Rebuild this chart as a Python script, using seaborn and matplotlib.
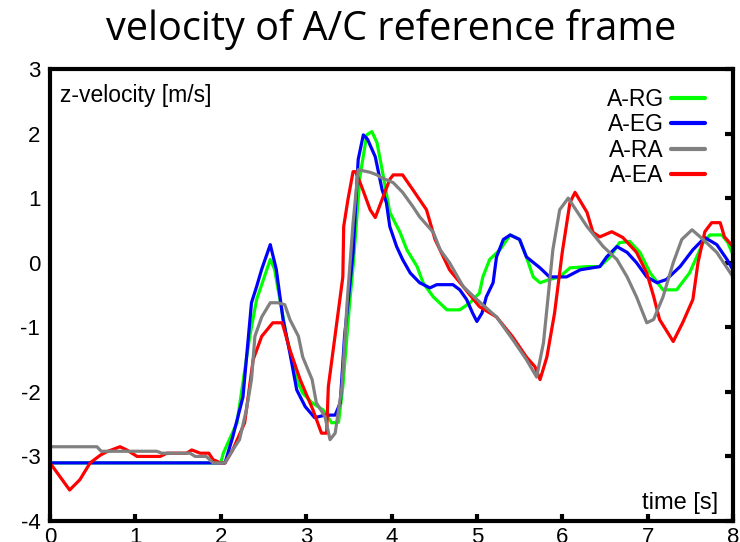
import numpy as np
import pandas as pd
import matplotlib
matplotlib.use("Agg")
import matplotlib.pyplot as plt
import seaborn as sns

# series (time [s], z-velocity [m/s])
t_rg = [0, 2.0, 2.03, 2.19, 2.34, 2.42, 2.58, 2.63, 2.77, 2.89,
        2.96, 3.07, 3.20, 3.30, 3.38, 3.43, 3.51, 3.55, 3.63, 3.71,
        3.77, 3.83, 3.89, 3.98, 4.10, 4.18, 4.30, 4.37, 4.49, 4.65,
        4.80, 4.92, 5.03, 5.07, 5.15, 5.27, 5.39, 5.50, 5.58, 5.66,
        5.74, 5.85, 5.97, 6.09, 6.30, 6.44, 6.56, 6.67, 6.79, 6.91,
        7.03, 7.18, 7.34, 7.49, 7.65, 7.73, 7.87, 7.94, 8.0]
v_rg = [-3.1, -3.1, -2.95, -2.48, -1.14, -0.57, 0.05, -0.1, -1.14, -1.81,
        -2.02, -2.17, -2.28, -2.48, -2.47, -1.92, -0.62, -0.06, 1.33, 1.98,
        2.03, 1.86, 1.44, 0.78, 0.47, 0.2, -0.06, -0.31, -0.53, -0.73,
        -0.73, -0.62, -0.47, -0.22, 0.05, 0.2, 0.43, 0.36, 0.09, -0.22,
        -0.31, -0.26, -0.22, -0.08, -0.06, -0.06, 0.09, 0.31, 0.33, 0.16,
        -0.16, -0.42, -0.42, -0.16, 0.31, 0.43, 0.43, 0.31, 0.12]

t_eg = [0, 2.05, 2.14, 2.26, 2.36, 2.42, 2.48, 2.58, 2.65, 2.73,
        2.81, 2.89, 2.99, 3.10, 3.22, 3.34, 3.40, 3.45, 3.51, 3.55,
        3.61, 3.67, 3.72, 3.81, 3.89, 3.94, 3.98, 4.06, 4.13, 4.22,
        4.33, 4.45, 4.53, 4.72, 4.80, 4.88, 4.95, 5.0, 5.06, 5.11,
        5.19, 5.23, 5.31, 5.39, 5.50, 5.58, 5.74, 5.85, 6.05, 6.21,
        6.44, 6.52, 6.64, 6.76, 6.87, 6.99, 7.11, 7.22, 7.38, 7.53,
        7.67, 7.81, 7.93, 8.0]
v_eg = [-3.1, -3.1, -2.7, -2.08, -0.62, -0.37, -0.1, 0.28, -0.1, -0.88,
        -1.4, -1.97, -2.23, -2.4, -2.36, -2.36, -2.17, -1.14, -0.37, 0.16,
        1.6, 1.98, 1.91, 1.64, 1.13, 0.93, 0.56, 0.25, 0.05, -0.16,
        -0.31, -0.39, -0.34, -0.34, -0.42, -0.57, -0.78, -0.91, -0.78, -0.53,
        -0.31, 0.09, 0.36, 0.43, 0.36, 0.09, -0.08, -0.22, -0.22, -0.11,
        -0.06, 0.09, 0.25, 0.16, 0.0, -0.22, -0.31, -0.26, -0.06, 0.2,
        0.39, 0.28, 0.05, -0.11]

t_ra = [0, 0.55, 0.6, 1.25, 1.31, 1.64, 1.7, 1.83, 1.91, 2.05,
        2.14, 2.22, 2.30, 2.36, 2.40, 2.48, 2.58, 2.67, 2.75, 2.81,
        2.91, 2.96, 3.07, 3.12, 3.22, 3.28, 3.34, 3.42, 3.48, 3.55,
        3.61, 3.75, 3.83, 3.86, 4.02, 4.13, 4.25, 4.33, 4.49, 4.57,
        4.68, 4.84, 5.0, 5.23, 5.42, 5.58, 5.70, 5.78, 5.89, 5.97,
        6.07, 6.29, 6.48, 6.64, 6.76, 6.87, 6.99, 7.07, 7.18, 7.30,
        7.40, 7.52, 7.65, 7.81, 8.0]
v_ra = [-2.85, -2.85, -2.92, -2.92, -2.95, -2.95, -3.0, -3.0, -3.1, -3.1,
        -2.9, -2.74, -2.28, -1.81, -1.14, -0.84, -0.62, -0.62, -0.65, -0.88,
        -1.14, -1.46, -1.81, -2.17, -2.38, -2.74, -2.64, -1.92, -0.62, 0.62,
        1.44, 1.4, 1.36, 1.33, 1.24, 1.09, 0.87, 0.71, 0.47, 0.2,
        0.0, -0.37, -0.57, -0.84, -1.19, -1.5, -1.77, -1.24, 0.2, 0.82,
        1.0, 0.56, 0.25, 0.05, -0.22, -0.53, -0.93, -0.88, -0.53, 0.0,
        0.36, 0.51, 0.36, 0.16, -0.22]

t_ea = [0, 0.23, 0.35, 0.47, 0.59, 0.66, 0.82, 0.9, 1.02, 1.29,
        1.37, 1.6, 1.66, 1.76, 1.86, 1.91, 2.0, 2.05, 2.14, 2.28,
        2.38, 2.48, 2.61, 2.72, 2.81, 2.93, 3.08, 3.18, 3.24, 3.26,
        3.43, 3.44, 3.49, 3.55, 3.58, 3.65, 3.75, 3.81, 3.89, 3.98,
        4.02, 4.13, 4.25, 4.41, 4.51, 4.68, 4.84, 5.03, 5.23, 5.42,
        5.58, 5.68, 5.74, 5.82, 5.91, 6.0, 6.09, 6.15, 6.29, 6.36,
        6.44, 6.58, 6.71, 6.87, 6.99, 7.07, 7.14, 7.30, 7.41, 7.53,
        7.59, 7.67, 7.75, 7.85, 7.90, 8.0]
v_ea = [-3.1, -3.52, -3.36, -3.1, -2.98, -2.93, -2.85, -2.9, -3.0, -3.0,
        -2.95, -2.95, -2.9, -2.95, -2.95, -3.05, -3.1, -3.1, -2.9, -2.48,
        -1.5, -1.14, -0.93, -0.93, -1.35, -1.81, -2.28, -2.64, -2.64, -1.92,
        -0.22, 0.56, 0.98, 1.41, 1.41, 1.18, 0.82, 0.7, 0.98, 1.29,
        1.36, 1.36, 1.13, 0.82, 0.36, -0.11, -0.37, -0.68, -0.84, -1.15,
        -1.46, -1.61, -1.81, -1.46, -0.78, 0.16, 0.93, 1.09, 0.78, 0.47,
        0.4, 0.48, 0.39, 0.16, -0.16, -0.52, -0.88, -1.22, -0.93, -0.57,
        0.0, 0.48, 0.62, 0.62, 0.4, 0.25]

labels = ["A-RG", "A-EG", "A-RA", "A-EA"]
colors = ["#00ff00", "#0000ff", "#808080", "#ff0000"]
x_ticks = [0, 1, 2, 3, 4, 5, 6, 7, 8]
y_ticks = [-4, -3, -2, -1, 0, 1, 2, 3]

sns.set_style("white")
plt.rcParams["font.family"] = ["Liberation Sans", "DejaVu Sans"]
plt.rcParams["axes.unicode_minus"] = False
plt.rcParams["text.color"] = "black"
plt.rcParams["xtick.color"] = "black"
plt.rcParams["ytick.color"] = "black"

fig = plt.figure(figsize=(7.4, 5.42), dpi=100)
ax = fig.add_axes([50 / 740, 21 / 542, 683 / 740, 452 / 542])

series = [(t_rg, v_rg), (t_eg, v_eg), (t_ea, v_ea), (t_ra, v_ra)]
order = [0, 1, 3, 2]  # draw green, blue, red, gray
handles = {}
for i, (t, v) in zip(order, series):
    sns.lineplot(x=t, y=v, color=colors[i], linewidth=2.3, sort=False,
                 estimator=None, ax=ax, label=labels[i])
    handles[labels[i]] = ax.lines[-1]

ax.set_xlim(0, 8)
ax.set_ylim(-4, 3)
ax.set_xticks(x_ticks)
ax.set_yticks(y_ticks)
ax.set_xlabel("")
ax.set_ylabel("")
for s in ax.spines.values():
    s.set_linewidth(3)
    s.set_color("black")
# x tick labels sit partly below the figure edge, as in the reference
ax.tick_params(axis="x", bottom=True, top=False, direction="in", length=5,
               width=3, pad=4, labelsize=16)
ax.tick_params(axis="y", left=False, right=True, direction="in", length=6,
               width=3, pad=7, labelsize=16, labelleft=True, labelright=False)

ax.text(0.015, 0.942, "z-velocity [m/s]", transform=ax.transAxes,
        ha="left", va="center", fontsize=16.5)
ax.text(0.978, 0.04, "time [s]", transform=ax.transAxes,
        ha="right", va="center", fontsize=17)

leg = ax.legend([handles[l] for l in labels], labels, loc="upper right",
                bbox_to_anchor=(0.959, 0.958), frameon=False, markerfirst=False,
                fontsize=16.5, handlelength=1.5, handletextpad=0.3,
                labelspacing=0.1, borderpad=0, borderaxespad=0)
for h in leg.get_lines():
    h.set_linewidth(3)

fig.text((50 + 733) / 2 / 740, 1 - 29 / 542, "velocity of A/C reference frame",
         ha="center", va="center", fontsize=28.5, family=["Open Sans", "DejaVu Sans"])

fig.savefig("out.png", dpi=100)
